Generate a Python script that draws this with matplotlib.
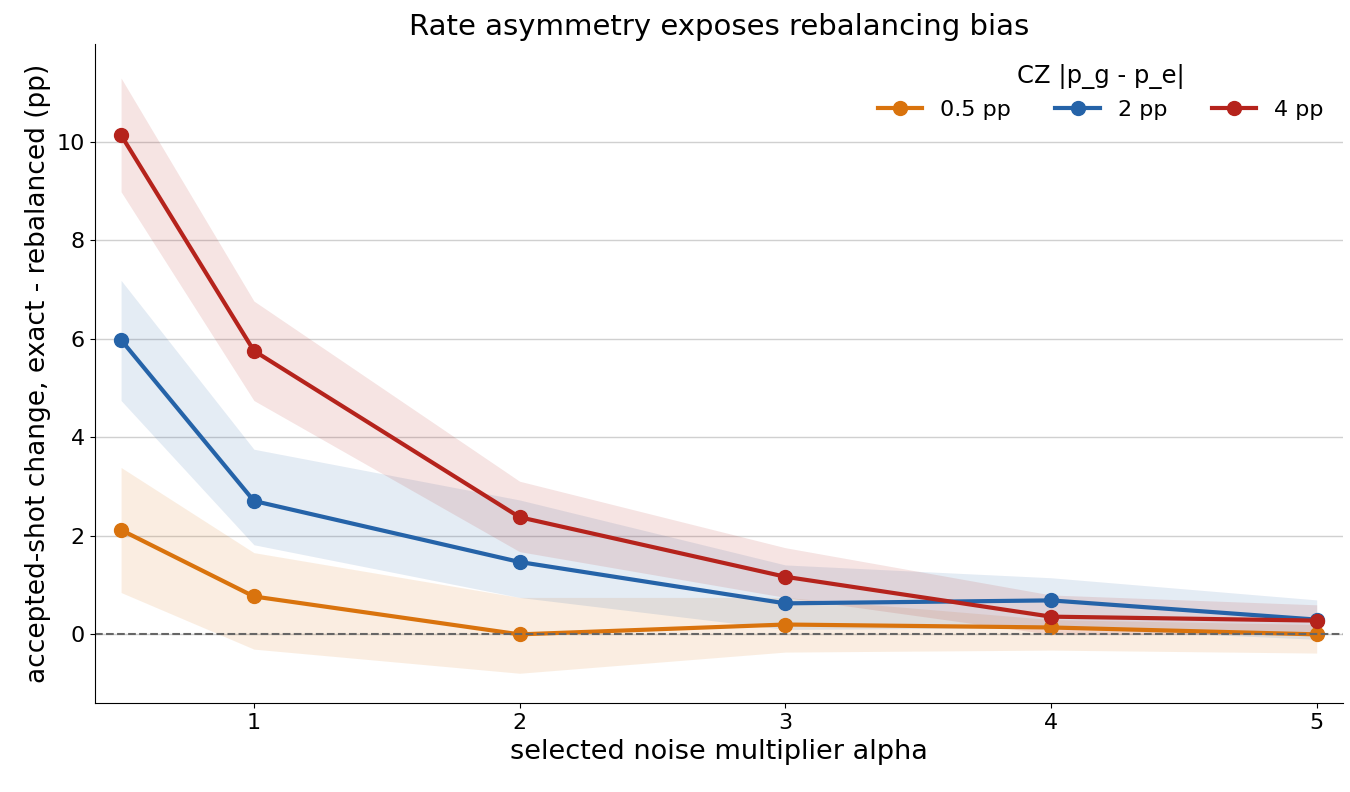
import matplotlib
matplotlib.use("Agg")
import matplotlib.pyplot as plt

alpha = [0.5, 1, 2, 3, 4, 5]
labels = ["0.5 pp", "2 pp", "4 pp"]
colors = ["#d9730d", "#2563a8", "#b5231c"]
mean_05 = [2.12, 0.77, 0.0, 0.2, 0.14, 0.0]
lo_05 = [0.85, -0.3, -0.79, -0.36, -0.32, -0.38]
hi_05 = [3.39, 1.66, 0.75, 0.75, 0.3, 0.2]
mean_2 = [5.98, 2.71, 1.47, 0.63, 0.69, 0.3]
lo_2 = [4.75, 1.82, 0.75, 0.1, 0.14, -0.1]
hi_2 = [7.19, 3.76, 2.73, 1.41, 1.15, 0.7]
mean_4 = [10.14, 5.76, 2.38, 1.17, 0.36, 0.28]
lo_4 = [8.99, 4.75, 1.68, 0.75, 0.0, 0.0]
hi_4 = [11.3, 6.77, 3.11, 1.76, 0.8, 0.6]

fig, ax = plt.subplots(figsize=(13.5, 7.92), dpi=100)
for m, lo, hi, c, l in zip([mean_05, mean_2, mean_4], [lo_05, lo_2, lo_4],
                           [hi_05, hi_2, hi_4], colors, labels):
    ax.fill_between(alpha, lo, hi, color=c, alpha=0.12, linewidth=0)
    ax.plot(alpha, m, color=c, marker="o", markersize=10, linewidth=3, label=l)
ax.axhline(0, color="#666666", linestyle="--", linewidth=1.5)
ax.set_xlim(0.4, 5.1)
ax.set_ylim(-1.4, 12)
ax.set_xticks([1, 2, 3, 4, 5])
ax.set_yticks([0, 2, 4, 6, 8, 10])
ax.grid(axis="y", color="#d0d0d0", linewidth=1)
ax.set_axisbelow(True)
for s in ["top", "right"]:
    ax.spines[s].set_visible(False)
ax.tick_params(labelsize=16)
ax.set_xlabel("selected noise multiplier alpha", fontsize=19.5)
ax.set_ylabel("accepted-shot change, exact - rebalanced (pp)", fontsize=19)
ax.set_title("Rate asymmetry exposes rebalancing bias", fontsize=21)
ax.legend(title="CZ |p_g - p_e|", ncol=3, frameon=False, loc="upper right",
          fontsize=16, title_fontsize=17.5, bbox_to_anchor=(1.0, 1.0),
          columnspacing=2.0)
fig.subplots_adjust(left=0.07, right=0.995, top=0.945, bottom=0.112)
fig.savefig("out.png")
